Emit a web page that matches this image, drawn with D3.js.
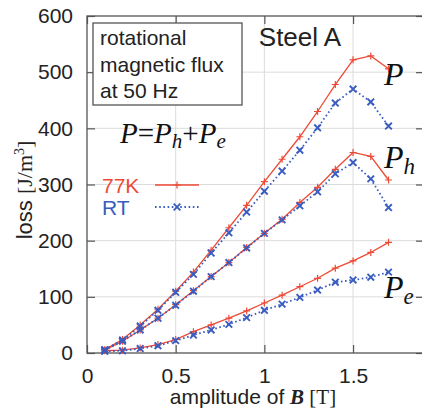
<!DOCTYPE html>
<html>
<head>
<meta charset="utf-8">
<script src="https://cdn.jsdelivr.net/npm/d3@7"></script>
<style>
  html, body { margin: 0; padding: 0; background: #fff; }
  #chart { width: 422px; height: 412px; overflow: hidden; }
</style>
</head>
<body>
<div id="chart"></div>
<script>
// Rotational loss of Steel A vs amplitude of B, 77K and RT

const amplitude = [0.1, 0.2, 0.3, 0.4, 0.5, 0.6, 0.7, 0.8, 0.9, 1.0, 1.1, 1.2, 1.3, 1.4, 1.5, 1.6, 1.7];

// total loss P
const totalCold = [6, 24, 50, 78, 110, 144, 183, 223, 263, 305, 345, 385, 430, 478, 522, 529, 506];
const totalRoom = [6, 23, 48, 76, 108, 140, 178, 214, 251, 288, 324, 361, 401, 445, 470, 447, 404];
// hysteresis loss Ph
const hystCold = [5, 21, 41, 62, 86, 111, 136, 161, 188, 213, 238, 268, 295, 327, 357, 350, 308];
const hystRoom = [5, 21, 41, 62, 85, 110, 136, 161, 187, 213, 237, 262, 287, 319, 339, 310, 259];
// eddy current loss Pe
const eddyCold = [4, 5, 9, 15, 24, 38, 50, 62, 75, 89, 103, 118, 133, 151, 164, 179, 197];
const eddyRoom = [3, 4, 8, 13, 22, 32, 41, 51, 63, 76, 87, 99, 112, 126, 130, 135, 144];

const xTicks = [0, 0.5, 1, 1.5];
const xTickLabels = ['0', '0.5', '1', '1.5'];
const yTicks = [0, 100, 200, 300, 400, 500, 600];

const CONFIG = {
    width: 422,
    height: 412,
    margin: { top: 16, right: -2, bottom: 59, left: 87 },
    red: '#ee4a36',
    blue: '#3a5cc0',
    frame: '#555',
    grid: '#dcdcdc',
    sans: '"Liberation Sans", Arial, Helvetica, sans-serif',
    serif: '"Liberation Serif", "Times New Roman", serif'
};

const svg = d3.select('#chart')
    .append('svg')
    .attr('width', CONFIG.width)
    .attr('height', CONFIG.height);

const m = CONFIG.margin;
const x = d3.scaleLinear().domain([0, 1.9]).range([m.left, CONFIG.width - m.right]);
const y = d3.scaleLinear().domain([0, 600]).range([CONFIG.height - m.bottom, m.top]);

// grid
svg.append('g')
    .selectAll('line')
    .data(xTicks.slice(1))
    .join('line')
    .attr('x1', d => x(d)).attr('x2', d => x(d))
    .attr('y1', y(0)).attr('y2', y(600))
    .attr('stroke', CONFIG.grid).attr('stroke-width', 1);

svg.append('g')
    .selectAll('line')
    .data(yTicks.slice(1, -1))
    .join('line')
    .attr('x1', x(0)).attr('x2', x(1.9))
    .attr('y1', d => y(d)).attr('y2', d => y(d))
    .attr('stroke', CONFIG.grid).attr('stroke-width', 1);

// axes with inward ticks, mirrored
function styleAxis(g) {
    g.select('.domain').remove();
    g.selectAll('.tick line').attr('stroke', CONFIG.frame).attr('stroke-width', 1.2);
    g.selectAll('.tick text')
        .attr('font-family', CONFIG.sans)
        .attr('font-size', 21)
        .attr('fill', '#222');
}

svg.append('g')
    .attr('transform', `translate(0,${y(0)})`)
    .call(d3.axisBottom(x).tickValues(xTicks).tickFormat((d, i) => xTickLabels[i])
        .tickSizeInner(-8).tickPadding(15))
    .call(styleAxis);

svg.append('g')
    .attr('transform', `translate(0,${y(600)})`)
    .call(d3.axisTop(x).tickValues(xTicks).tickFormat('').tickSizeInner(-8))
    .call(styleAxis);

svg.append('g')
    .attr('transform', `translate(${x(0)},0)`)
    .call(d3.axisLeft(y).tickValues(yTicks).tickSizeInner(-8).tickPadding(14))
    .call(styleAxis);

svg.append('g')
    .attr('transform', `translate(${x(1.9)},0)`)
    .call(d3.axisRight(y).tickValues(yTicks).tickFormat('').tickSizeInner(-8))
    .call(styleAxis);

// frame
svg.append('rect')
    .attr('x', x(0)).attr('y', y(600))
    .attr('width', x(1.9) - x(0)).attr('height', y(0) - y(600))
    .attr('fill', 'none')
    .attr('stroke', CONFIG.frame)
    .attr('stroke-width', 1.3);

// series
const line = d3.line().x((d, i) => x(amplitude[i])).y(d => y(d));

function plusMarker(g, px, py, color) {
    const s = 3.5;
    g.append('path')
        .attr('d', `M${px - s},${py}H${px + s}M${px},${py - s}V${py + s}`)
        .attr('stroke', color).attr('stroke-width', 1.2).attr('fill', 'none');
}

function crossMarker(g, px, py, color) {
    const s = 3.3;
    g.append('path')
        .attr('d', `M${px - s},${py - s}L${px + s},${py + s}M${px - s},${py + s}L${px + s},${py - s}`)
        .attr('stroke', color).attr('stroke-width', 1.9).attr('fill', 'none');
}

function drawCold(values) {
    const g = svg.append('g');
    g.append('path')
        .datum(values)
        .attr('d', line)
        .attr('fill', 'none')
        .attr('stroke', CONFIG.red)
        .attr('stroke-width', 1.3);
    values.forEach((v, i) => plusMarker(g, x(amplitude[i]), y(v), CONFIG.red));
}

function drawRoom(values) {
    const g = svg.append('g');
    g.append('path')
        .datum(values)
        .attr('d', line)
        .attr('fill', 'none')
        .attr('stroke', CONFIG.blue)
        .attr('stroke-width', 1.8)
        .attr('stroke-dasharray', '1.6 2.6');
    values.forEach((v, i) => crossMarker(g, x(amplitude[i]), y(v), CONFIG.blue));
}

[eddyCold, hystCold, totalCold].forEach(drawCold);
[eddyRoom, hystRoom, totalRoom].forEach(drawRoom);

// annotation box
svg.append('rect')
    .attr('x', 93).attr('y', 23)
    .attr('width', 149).attr('height', 82)
    .attr('fill', '#fff')
    .attr('stroke', CONFIG.frame)
    .attr('stroke-width', 1.3);

const boxText = svg.append('text')
    .attr('font-family', CONFIG.sans)
    .attr('font-size', 21)
    .attr('fill', '#222');
['rotational', 'magnetic flux', 'at 50 Hz'].forEach((t, i) => {
    boxText.append('tspan').attr('x', 100).attr('y', 45 + i * 26.5).text(t);
});

svg.append('text')
    .attr('x', 300).attr('y', 46)
    .attr('text-anchor', 'middle')
    .attr('font-family', CONFIG.sans)
    .attr('font-size', 26)
    .attr('fill', '#222')
    .text('Steel A');

// formula P = Ph + Pe
const formula = svg.append('text')
    .attr('x', 120).attr('y', 143)
    .attr('font-family', CONFIG.serif)
    .attr('font-style', 'italic')
    .attr('font-size', 29)
    .attr('fill', '#111');
formula.append('tspan').text('P');
formula.append('tspan').attr('font-style', 'normal').text('=');
formula.append('tspan').text('P');
formula.append('tspan').attr('font-size', 21).attr('dy', 5).text('h');
formula.append('tspan').attr('font-style', 'normal').attr('dy', -5).text('+');
formula.append('tspan').text('P');
formula.append('tspan').attr('font-size', 21).attr('dy', 5).text('e');

// legend
const legend = [
    { label: '77K', color: CONFIG.red, y: 185, cold: true },
    { label: 'RT', color: CONFIG.blue, y: 207, cold: false }
];
legend.forEach(d => {
    svg.append('text')
        .attr('x', 102).attr('y', d.y + 8)
        .attr('font-family', CONFIG.sans)
        .attr('font-size', 21)
        .attr('fill', d.color)
        .text(d.label);
    const ln = svg.append('line')
        .attr('x1', 155).attr('x2', 199)
        .attr('y1', d.y).attr('y2', d.y)
        .attr('stroke', d.color);
    if (d.cold) {
        ln.attr('stroke-width', 1.3);
        plusMarker(svg, 177, d.y, d.color);
    } else {
        ln.attr('stroke-width', 1.8).attr('stroke-dasharray', '1.6 2.6');
        crossMarker(svg, 177, d.y, d.color);
    }
});

// curve labels
const curveLabels = [
    { main: 'P', sub: '', x: 384, y: 85 },
    { main: 'P', sub: 'h', x: 384, y: 168 },
    { main: 'P', sub: 'e', x: 384, y: 298 }
];
curveLabels.forEach(d => {
    const t = svg.append('text')
        .attr('x', d.x).attr('y', d.y)
        .attr('font-family', CONFIG.serif)
        .attr('font-style', 'italic')
        .attr('font-size', 32)
        .attr('fill', '#111');
    t.append('tspan').text(d.main);
    if (d.sub) t.append('tspan').attr('font-size', 23).attr('dy', 6).text(d.sub);
});

// axis titles
const xTitle = svg.append('text')
    .attr('x', 253).attr('y', 404)
    .attr('text-anchor', 'middle')
    .attr('font-family', CONFIG.sans)
    .attr('font-size', 21)
    .attr('fill', '#222');
xTitle.append('tspan').text('amplitude of ');
xTitle.append('tspan').attr('font-family', CONFIG.serif).attr('font-style', 'italic')
    .attr('font-weight', 'bold').text('B');
xTitle.append('tspan').attr('font-family', CONFIG.serif).text(' [T]');

const yTitle = svg.append('text')
    .attr('transform', `translate(32,190) rotate(-90)`)
    .attr('text-anchor', 'middle')
    .attr('font-family', CONFIG.sans)
    .attr('font-size', 22)
    .attr('fill', '#222');
yTitle.append('tspan').text('loss ');
yTitle.append('tspan').attr('font-family', CONFIG.serif).text('[J/m');
yTitle.append('tspan').attr('font-family', CONFIG.serif).attr('font-size', 14).attr('dy', -8).text('3');
yTitle.append('tspan').attr('font-family', CONFIG.serif).attr('dy', 8).text(']');
</script>
</body>
</html>
